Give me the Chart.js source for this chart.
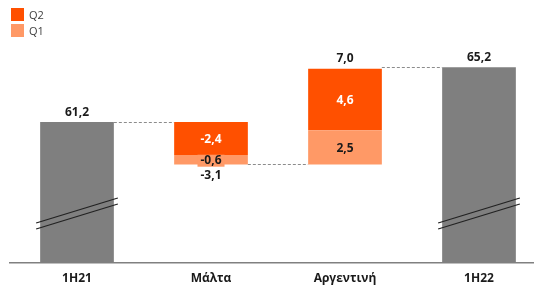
<!DOCTYPE html>
<html>
<head>
<meta charset="utf-8">
<script src="https://cdn.jsdelivr.net/npm/chart.js@4/dist/chart.umd.min.js"></script>
<style>
  body { margin: 0; overflow: hidden; background: #fff; font-family: "Open Sans", sans-serif; }
  #wrap { position: relative; width: 546px; height: 285px; }
  #legend { position: absolute; left: 11px; top: 6px; font-size: 11px; color: #404040; }
  #legend div { display: flex; align-items: center; height: 16px; margin-bottom: 0px; }
  #legend span.box { display: inline-block; width: 13px; height: 13px; margin-right: 5px; }
  canvas { display: block; }
</style>
</head>
<body>
<div id="wrap">
  <canvas id="waterfall" width="546" height="285"></canvas>
  <div id="legend">
    <div><span class="box" style="background:#ff5000"></span>Q2</div>
    <div><span class="box" style="background:#ff9966"></span>Q1</div>
  </div>
</div>
<script>
// chart values
const categories = ["1H21", "Μάλτα", "Αργεντινή", "1H22"];
const totals = [61.2, null, null, 65.2];
const changes = [null, -3.1, 7.0, null];
const q1Values = [null, -0.6, 2.5, null];
const q2Values = [null, -2.4, 4.6, null];
const yMin = 50.9;
const yMax = 67.2;

const FONT = "'Open Sans', sans-serif";
const fmt = v => v.toFixed(1).replace(".", ",");

// build floating bars from the running total
const totalBars = [], q1Bars = [], q2Bars = [];
let running = 0;
categories.forEach((c, i) => {
    if (totals[i] !== null) {
        totalBars.push(totals[i]); q1Bars.push(null); q2Bars.push(null);
        running = totals[i];
        return;
    }
    const start = running, end = running + changes[i];
    totalBars.push(null);
    if (changes[i] < 0) {
        q2Bars.push([start + q2Values[i], start]);
        q1Bars.push([end, start + q2Values[i]]);
    } else {
        q1Bars.push([start, start + q1Values[i]]);
        q2Bars.push([start + q1Values[i], end]);
    }
    running = end;
});

const decorations = {
    id: "decorations",
    afterDatasetsDraw(chart) {
        const ctx = chart.ctx;
        const y = chart.scales.y;
        const area = chart.chartArea;
        const totMeta = chart.getDatasetMeta(0).data;
        const q1Meta = chart.getDatasetMeta(1).data;
        const q2Meta = chart.getDatasetMeta(2).data;
        ctx.save();

        // dashed connectors between bars
        ctx.strokeStyle = "#8c8c8c";
        ctx.lineWidth = 1;
        ctx.setLineDash([3, 2]);
        let level = null;
        categories.forEach((c, i) => {
            const el = totMeta[i];
            const half = el.width / 2;
            const startLevel = totals[i] !== null ? totals[i] : level;
            const endLevel = totals[i] !== null ? totals[i] : level + changes[i];
            if (i > 0) {
                const prev = totMeta[i - 1];
                const py = Math.round(y.getPixelForValue(startLevel)) + 0.5;
                ctx.beginPath();
                ctx.moveTo(prev.x + prev.width / 2, py);
                ctx.lineTo(el.x - half, py);
                ctx.stroke();
            }
            level = endLevel;
        });
        ctx.setLineDash([]);

        // axis break marks on the total bars
        ctx.strokeStyle = "#222";
        ctx.lineWidth = 1.3;
        categories.forEach((c, i) => {
            if (totals[i] === null) return;
            const el = totMeta[i];
            const x0 = el.x - el.width / 2 - 4, x1 = el.x + el.width / 2 + 4;
            [0, 6].forEach(off => {
                ctx.beginPath();
                ctx.moveTo(x0, area.bottom - 40 + off);
                ctx.lineTo(x1, area.bottom - 65 + off);
                ctx.stroke();
            });
        });

        // value labels
        ctx.textAlign = "center";
        ctx.textBaseline = "middle";
        ctx.font = "bold 12px " + FONT;
        categories.forEach((c, i) => {
            const el = totMeta[i];
            if (totals[i] !== null) {
                ctx.fillStyle = "#1a1a1a";
                ctx.fillText(fmt(totals[i]), el.x, y.getPixelForValue(totals[i]) - 10);
                return;
            }
            const e1 = q1Meta[i], e2 = q2Meta[i];
            const top = Math.min(e1.y, e1.base, e2.y, e2.base);
            const bottom = Math.max(e1.y, e1.base, e2.y, e2.base);
            // total change
            ctx.fillStyle = "#1a1a1a";
            if (changes[i] < 0) ctx.fillText(fmt(changes[i]), el.x, bottom + 11);
            else ctx.fillText(fmt(changes[i]), el.x, top - 10);
            // Q2 inside
            ctx.fillStyle = "#fff";
            ctx.fillText(fmt(q2Values[i]), e2.x, (e2.y + e2.base) / 2 + 1);
            // Q1 inside (with a patch when the segment is thin)
            const q1y = (e1.y + e1.base) / 2 + 1;
            const txt = fmt(q1Values[i]);
            if (Math.abs(e1.base - e1.y) < 14) {
                const w = ctx.measureText(txt).width + 6;
                ctx.fillStyle = "#ff9966";
                ctx.fillRect(e1.x - w / 2, q1y - 6, w, 12);
            }
            ctx.fillStyle = "#1a1a1a";
            ctx.fillText(txt, e1.x, q1y);
        });
        ctx.restore();
    }
};

new Chart(document.getElementById("waterfall").getContext("2d"), {
    type: "bar",
    data: {
        labels: categories,
        datasets: [
            { label: "Total", data: totalBars, backgroundColor: "#7f7f7f" },
            { label: "Q1", data: q1Bars, backgroundColor: "#ff9966" },
            { label: "Q2", data: q2Bars, backgroundColor: "#ff5000" }
        ]
    },
    options: {
        responsive: false,
        animation: false,
        layout: { padding: { top: 40, left: 10, right: 0, bottom: 0 } },
        datasets: { bar: { barPercentage: 0.55, categoryPercentage: 1, grouped: false } },
        plugins: { legend: { display: false }, tooltip: { enabled: false } },
        scales: {
            x: {
                grid: { display: false, drawTicks: false },
                border: { display: true, color: "#808080", width: 1.5 },
                ticks: { color: "#1a1a1a", padding: 8, font: { family: FONT, size: 12, weight: "bold" } },
                afterFit: scale => { scale.height = 22; }
            },
            y: { display: false, min: yMin, max: yMax }
        }
    },
    plugins: [decorations]
});
</script>
</body>
</html>
